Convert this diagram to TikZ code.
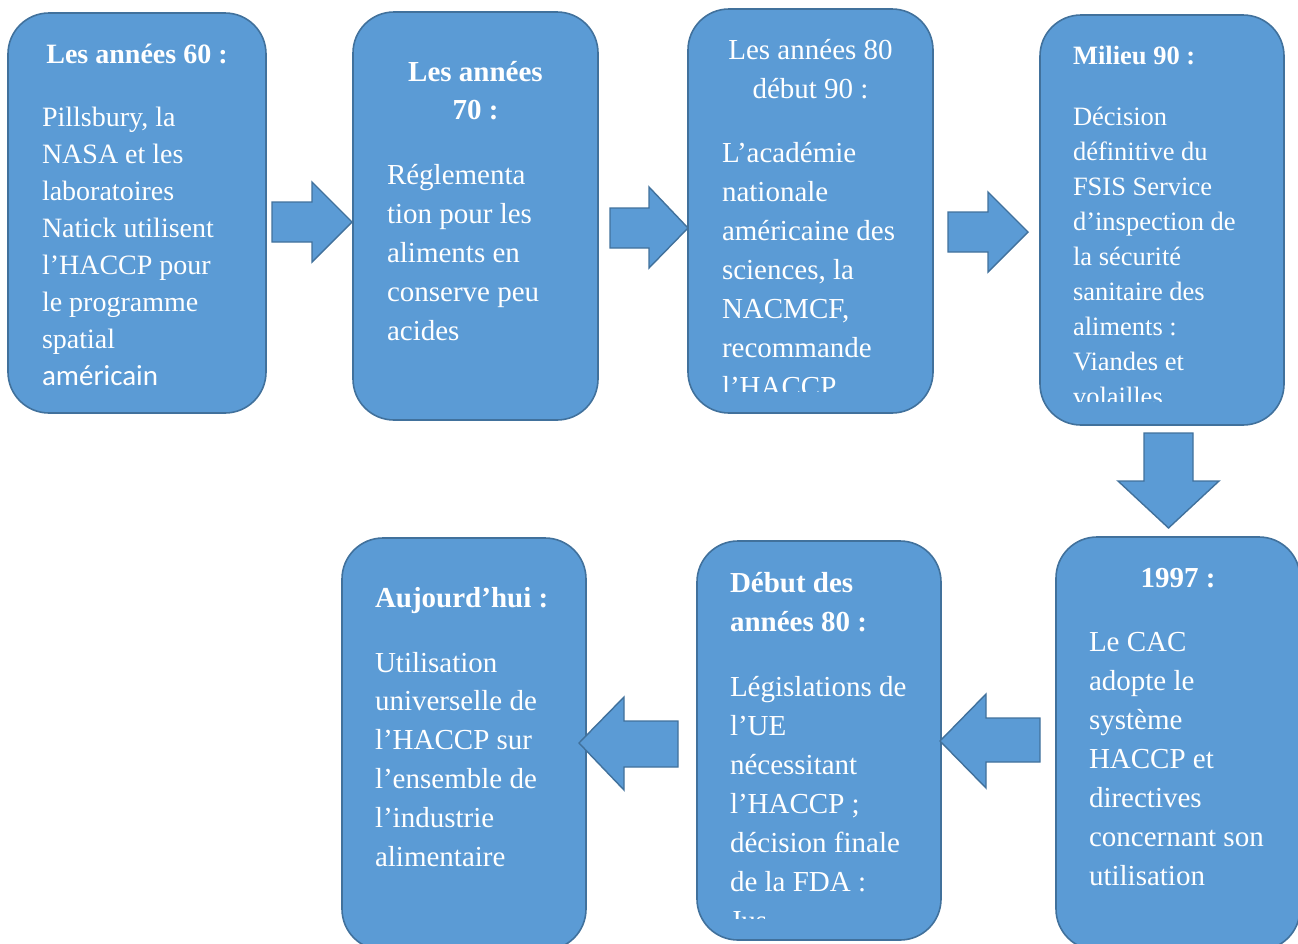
\documentclass[tikz,border=0pt]{standalone}
\usepackage{fontspec}
\setmainfont{Liberation Serif}
\newfontfamily\calib{Carlito}
\definecolor{boxfill}{HTML}{5B9BD5}
\definecolor{boxline}{HTML}{41719C}
\tikzset{
  box/.style={draw=boxline, fill=boxfill, line width=1.6pt, rounded corners=41pt, inner sep=0pt, outer sep=0pt},
  blockarrow/.style={draw=boxline, fill=boxfill, line width=1.4pt, line join=miter},
  txt/.style={text=white, inner sep=0pt, outer sep=0pt},
}
\newcommand{\tb}[4]{\parbox[t]{#1}{\fontsize{#2}{#3}\selectfont #4}}
\begin{document}
\begin{tikzpicture}[x=1pt,y=-1pt]
\useasboundingbox (0,0) rectangle (1298,943);
\clip (0,0) rectangle (1298,943);
% boxes
\node[box, minimum width=258pt, minimum height=400pt] (b1) at (137,213) {};
\node[box, minimum width=245pt, minimum height=408pt] (b2) at (475.5,216) {};
\node[box, minimum width=245pt, minimum height=404pt] (b3) at (810.5,211) {};
\node[box, minimum width=244pt, minimum height=410pt] (b4) at (1162,220) {};
\node[box, minimum width=244pt, minimum height=413pt] (b5) at (1178,743.5) {};
\node[box, minimum width=244pt, minimum height=399pt] (b6) at (819,740.5) {};
\node[box, minimum width=244pt, minimum height=412pt] (b7) at (464,744) {};
% block arrows
\draw[blockarrow] (272,202) -- (312,202) -- (312,182) -- (352,222) -- (312,262) -- (312,242) -- (272,242) -- cycle;
\draw[blockarrow] (610,208) -- (649,208) -- (649,187) -- (688,228) -- (649,268) -- (649,248) -- (610,248) -- cycle;
\draw[blockarrow] (948,212) -- (988,212) -- (988,192) -- (1028,232) -- (988,272) -- (988,252) -- (948,252) -- cycle;
\draw[blockarrow] (1144,433) -- (1193,433) -- (1193,481) -- (1219,481) -- (1168.5,528) -- (1118,481) -- (1144,481) -- cycle;
\draw[blockarrow] (1040,718) -- (986,718) -- (986,694) -- (940,741) -- (986,788) -- (986,762) -- (1040,762) -- cycle;
\draw[blockarrow] (678,721) -- (624,721) -- (624,697) -- (579,743) -- (624,790) -- (624,767) -- (678,767) -- cycle;
% box 1
\node[txt, anchor=base] (t1) at (137,63) {\fontsize{28}{37}\selectfont\bfseries Les années 60 :};
\node[txt, anchor=base west] (x1) at (42,126) {\tb{400pt}{28}{37}{Pillsbury, la\\NASA et les\\laboratoires\\Natick utilisent\\l’HACCP pour\\le programme\\spatial\\{\calib\fontsize{29}{37}\selectfont américain}}};
% box 2
\node[txt, anchor=base] (t2) at (475.5,81) {\tb{300pt}{29}{38}{\centering\bfseries Les années\\70 :}};
\node[txt, anchor=base west] (x2) at (387,184) {\tb{400pt}{29}{39}{Réglementa\\tion pour les\\aliments en\\conserve peu\\acides}};
% box 3
\node[txt, anchor=base] (t3) at (810.5,59) {\tb{300pt}{29}{39}{\centering Les années 80\\début 90 :}};
\begin{scope}
\clip (690,100) rectangle (930,391);
\node[txt, anchor=base west] (x3) at (722,162) {\tb{400pt}{29}{39}{L’académie\\nationale\\américaine des\\sciences, la\\NACMCF,\\recommande\\l’HACCP}};
\end{scope}
% box 4
\node[txt, anchor=base west] (t4) at (1073,64) {\fontsize{26.5}{35}\selectfont\bfseries Milieu 90 :};
\begin{scope}
\clip (1042,90) rectangle (1282,401);
\node[txt, anchor=base west] (x4) at (1073,125) {\tb{400pt}{26.5}{35.1}{Décision\\définitive du\\FSIS Service\\d\symbol{39}inspection de\\la sécurité\\sanitaire des\\aliments :\\Viandes et\\volailles}};
\end{scope}
% box 5
\node[txt, anchor=base] (t5) at (1178,587) {\fontsize{29}{39}\selectfont\bfseries 1997 :};
\node[txt, anchor=base west] (x5) at (1089,651) {\tb{400pt}{29}{39}{Le CAC\\adopte le\\système\\HACCP et\\directives\\concernant son\\utilisation}};
% box 6
\node[txt, anchor=base west] (t6) at (730,592) {\tb{300pt}{29}{39}{\bfseries Début des\\années 80 :}};
\begin{scope}
\clip (700,660) rectangle (938,918);
\node[txt, anchor=base west] (x6) at (730,696) {\tb{400pt}{29}{39}{Législations de\\l’UE\\nécessitant\\l’HACCP ;\\décision finale\\de la FDA :\\Jus}};
\end{scope}
% box 7
\node[txt, anchor=base west] (t7) at (375,607) {\fontsize{29}{39}\selectfont\bfseries Aujourd’hui :};
\node[txt, anchor=base west] (x7) at (375,672) {\tb{400pt}{29}{38.8}{Utilisation\\universelle de\\l’HACCP sur\\l’ensemble de\\l’industrie\\alimentaire}};
\end{tikzpicture}
\end{document}
